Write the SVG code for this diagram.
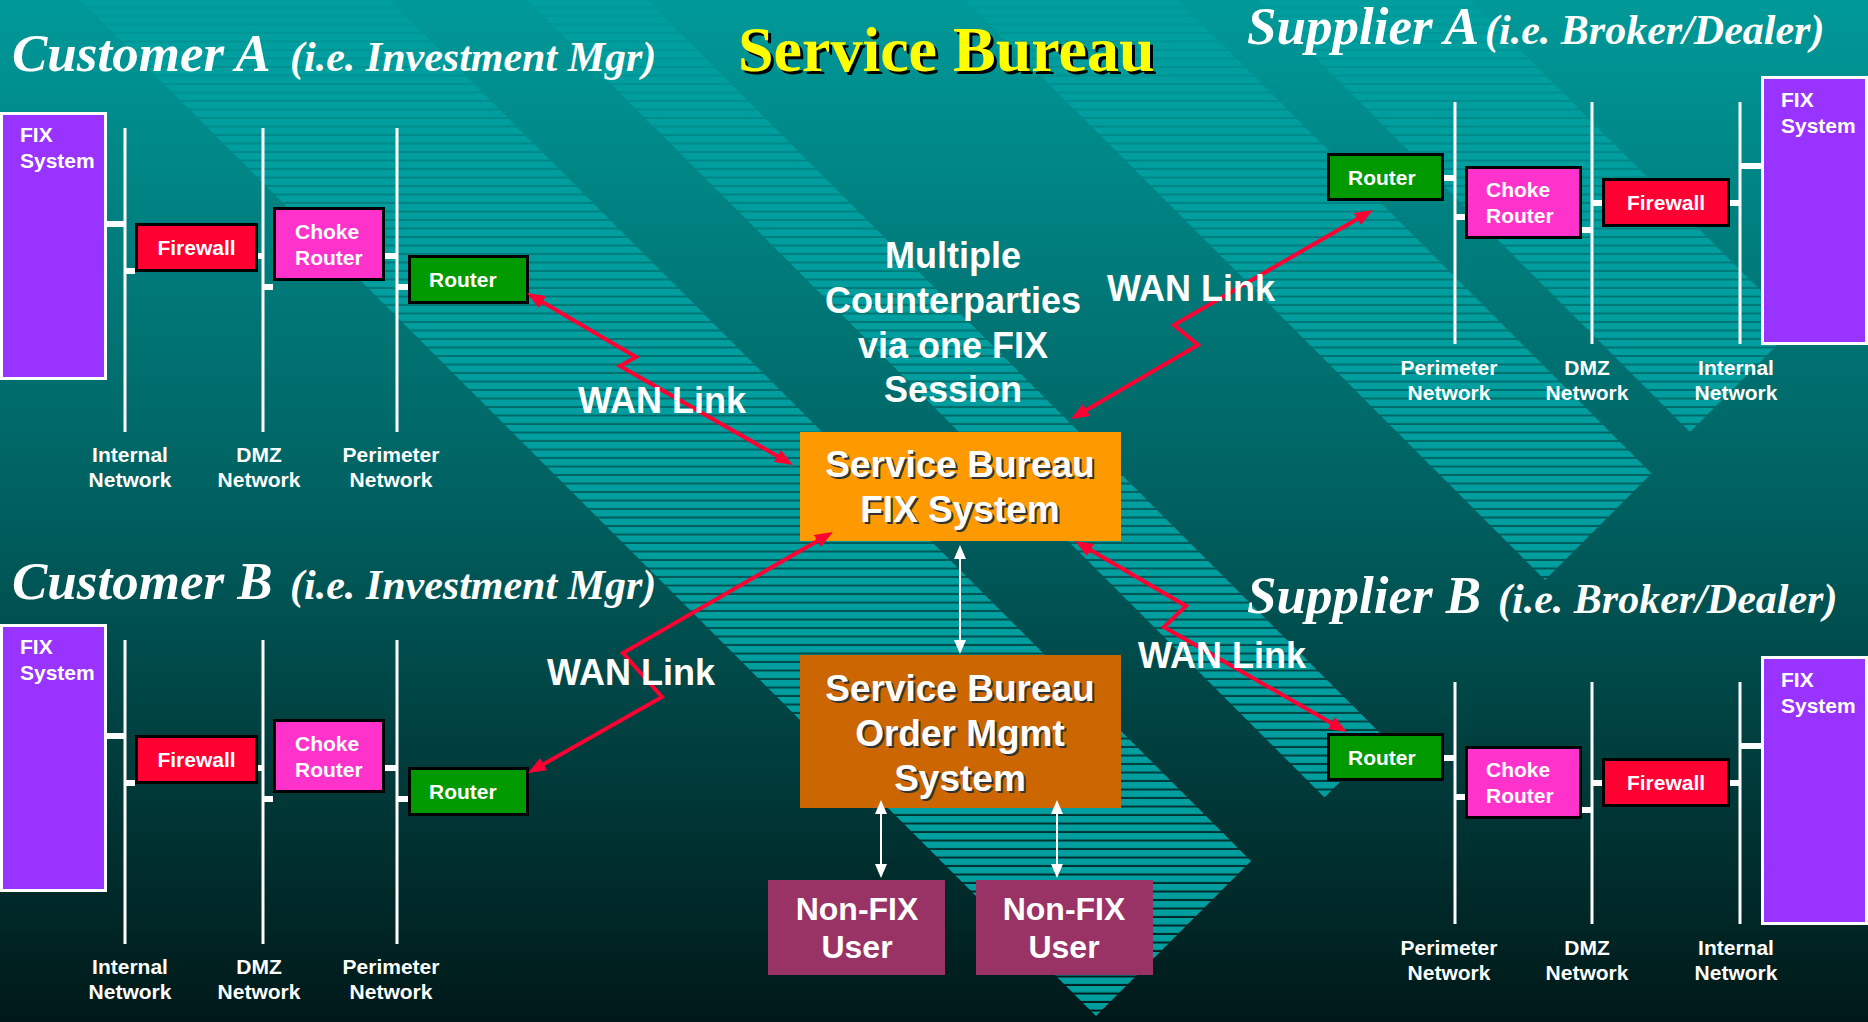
<svg xmlns="http://www.w3.org/2000/svg" width="1868" height="1022" viewBox="0 0 1868 1022">
<defs>
<linearGradient id="bg" x1="0" y1="0" x2="0" y2="1">
<stop offset="0" stop-color="#009999"/>
<stop offset="0.5" stop-color="#005f5f"/>
<stop offset="1" stop-color="#001818"/>
</linearGradient>
<pattern id="hatch" patternUnits="userSpaceOnUse" width="40" height="8.5">
<rect x="0" y="0" width="40" height="6.5" fill="#009e9e"/>
</pattern>
<marker id="redHead" markerUnits="userSpaceOnUse" markerWidth="18" markerHeight="14" refX="8" refY="7" orient="auto-start-reverse">
<path d="M0,0 L18,7 L0,14 z" fill="#ff0033"/>
</marker>
<marker id="whiteHead" markerUnits="userSpaceOnUse" markerWidth="14" markerHeight="12" refX="6" refY="6" orient="auto-start-reverse">
<path d="M0,0 L14,6 L0,12 z" fill="#ffffff"/>
</marker>
<style>
.title{font-family:"Liberation Serif","Times New Roman",serif;font-weight:bold;font-style:italic;fill:#ffffff}
.t53{font-size:53px}
.t42{font-size:42px}
.sb{font-family:"Liberation Serif","Times New Roman",serif;font-weight:bold;font-size:64px}
.lbl{font-family:"Liberation Sans",Arial,sans-serif;font-weight:bold;font-size:21px;fill:#ffffff}
.mid{text-anchor:middle}
.big{font-family:"Liberation Sans",Arial,sans-serif;font-weight:bold;font-size:36px;fill:#ffffff}
.box{font-family:"Liberation Sans",Arial,sans-serif;font-weight:bold;font-size:37px;text-anchor:middle}
.user{font-family:"Liberation Sans",Arial,sans-serif;font-weight:bold;font-size:32px;fill:#ffffff;text-anchor:middle}
.net{stroke:#ffffff;stroke-width:3}
.stub{fill:#ffffff}
.fix{fill:#9933ff;stroke:#ffffff;stroke-width:3}
.fw{fill:#ff0033;stroke:#000000;stroke-width:3}
.choke{fill:#ff33cc;stroke:#000000;stroke-width:3}
.router{fill:#009900;stroke:#000000;stroke-width:3}
.wan{fill:none;stroke:#ff0033;stroke-width:4;marker-start:url(#redHead);marker-end:url(#redHead)}
.dbl{stroke:#ffffff;stroke-width:2;marker-start:url(#whiteHead);marker-end:url(#whiteHead)}
</style>
</defs>

<rect x="0" y="0" width="1868" height="1022" fill="url(#bg)"/>
<g id="background-bands" fill="url(#hatch)">
<polygon points="80,0 390,0 1251,861 1096,1016"/>
<polygon points="527,0 647,0 1384.5,737.5 1324.5,797.5"/>
<polygon points="965,0 1178,0 1651.5,473.5 1545,580"/>
<polygon points="1258,0 1470,0 1796,326 1690,432"/>
</g>

<g id="titles">
<text class="title t53" x="12" y="71">Customer A</text>
<text class="title t42" x="290" y="71">(i.e. Investment Mgr)</text>
<text class="title t53" x="12" y="599">Customer B</text>
<text class="title t42" x="290" y="599">(i.e. Investment Mgr)</text>
<text class="title t53" x="1247" y="44">Supplier A</text>
<text class="title t42" x="1485" y="44">(i.e. Broker/Dealer)</text>
<text class="title t53" x="1247" y="613">Supplier B</text>
<text class="title t42" x="1498" y="613">(i.e. Broker/Dealer)</text>
<text class="sb" x="741" y="74" fill="#000000">Service Bureau</text>
<text class="sb" x="738" y="71" fill="#ffff00">Service Bureau</text>
</g>

<g id="customer-a">
<rect class="fix" x="1.5" y="113.5" width="104" height="265"/>
<text class="lbl" x="20" y="142">FIX</text>
<text class="lbl" x="20" y="168">System</text>
<line class="net" x1="125" y1="128" x2="125" y2="432"/>
<line class="net" x1="263" y1="128" x2="263" y2="432"/>
<line class="net" x1="397" y1="128" x2="397" y2="432"/>
<rect class="stub" x="107" y="221" width="18" height="6"/>
<rect class="stub" x="125" y="268" width="10" height="6"/>
<rect class="stub" x="258" y="253" width="5" height="6"/>
<rect class="stub" x="263" y="284" width="10" height="6"/>
<rect class="stub" x="385" y="253" width="12" height="6"/>
<rect class="stub" x="397" y="284" width="11" height="6"/>
<rect class="fw" x="136.5" y="224.5" width="120" height="46"/>
<text class="lbl mid" x="196.5" y="255">Firewall</text>
<rect class="choke" x="274.5" y="208.5" width="109" height="71"/>
<text class="lbl" x="295" y="239">Choke</text>
<text class="lbl" x="295" y="265">Router</text>
<rect class="router" x="409.5" y="256.5" width="118" height="46"/>
<text class="lbl" x="429" y="287">Router</text>
<text class="lbl mid" x="130" y="462">Internal</text>
<text class="lbl mid" x="130" y="487">Network</text>
<text class="lbl mid" x="259" y="462">DMZ</text>
<text class="lbl mid" x="259" y="487">Network</text>
<text class="lbl mid" x="391" y="462">Perimeter</text>
<text class="lbl mid" x="391" y="487">Network</text>
</g>

<g id="customer-b" transform="translate(0,512)">
<rect class="fix" x="1.5" y="113.5" width="104" height="265"/>
<text class="lbl" x="20" y="142">FIX</text>
<text class="lbl" x="20" y="168">System</text>
<line class="net" x1="125" y1="128" x2="125" y2="432"/>
<line class="net" x1="263" y1="128" x2="263" y2="432"/>
<line class="net" x1="397" y1="128" x2="397" y2="432"/>
<rect class="stub" x="107" y="221" width="18" height="6"/>
<rect class="stub" x="125" y="268" width="10" height="6"/>
<rect class="stub" x="258" y="253" width="5" height="6"/>
<rect class="stub" x="263" y="284" width="10" height="6"/>
<rect class="stub" x="385" y="253" width="12" height="6"/>
<rect class="stub" x="397" y="284" width="11" height="6"/>
<rect class="fw" x="136.5" y="224.5" width="120" height="46"/>
<text class="lbl mid" x="196.5" y="255">Firewall</text>
<rect class="choke" x="274.5" y="208.5" width="109" height="71"/>
<text class="lbl" x="295" y="239">Choke</text>
<text class="lbl" x="295" y="265">Router</text>
<rect class="router" x="409.5" y="256.5" width="118" height="46"/>
<text class="lbl" x="429" y="287">Router</text>
<text class="lbl mid" x="130" y="462">Internal</text>
<text class="lbl mid" x="130" y="487">Network</text>
<text class="lbl mid" x="259" y="462">DMZ</text>
<text class="lbl mid" x="259" y="487">Network</text>
<text class="lbl mid" x="391" y="462">Perimeter</text>
<text class="lbl mid" x="391" y="487">Network</text>
</g>

<g id="supplier-a">
<rect class="router" x="1328.5" y="154.5" width="114" height="45"/>
<text class="lbl" x="1348" y="185">Router</text>
<line class="net" x1="1455" y1="102" x2="1455" y2="344"/>
<line class="net" x1="1592" y1="102" x2="1592" y2="344"/>
<line class="net" x1="1740" y1="102" x2="1740" y2="344"/>
<rect class="stub" x="1444" y="175" width="11" height="6"/>
<rect class="stub" x="1455" y="214" width="10" height="6"/>
<rect class="stub" x="1582" y="227" width="10" height="6"/>
<rect class="stub" x="1592" y="200" width="10" height="6"/>
<rect class="stub" x="1730" y="200" width="10" height="6"/>
<rect class="stub" x="1740" y="163" width="21" height="6"/>
<rect class="choke" x="1466.5" y="167.5" width="114" height="70"/>
<text class="lbl" x="1486" y="197">Choke</text>
<text class="lbl" x="1486" y="223">Router</text>
<rect class="fw" x="1603.5" y="179.5" width="125" height="46"/>
<text class="lbl mid" x="1666" y="210">Firewall</text>
<rect class="fix" x="1762.5" y="77.5" width="104" height="266"/>
<text class="lbl" x="1781" y="107">FIX</text>
<text class="lbl" x="1781" y="133">System</text>
<text class="lbl mid" x="1449" y="375">Perimeter</text>
<text class="lbl mid" x="1449" y="400">Network</text>
<text class="lbl mid" x="1587" y="375">DMZ</text>
<text class="lbl mid" x="1587" y="400">Network</text>
<text class="lbl mid" x="1736" y="375">Internal</text>
<text class="lbl mid" x="1736" y="400">Network</text>
</g>

<g id="supplier-b" transform="translate(0,580)">
<rect class="router" x="1328.5" y="154.5" width="114" height="45"/>
<text class="lbl" x="1348" y="185">Router</text>
<line class="net" x1="1455" y1="102" x2="1455" y2="344"/>
<line class="net" x1="1592" y1="102" x2="1592" y2="344"/>
<line class="net" x1="1740" y1="102" x2="1740" y2="344"/>
<rect class="stub" x="1444" y="175" width="11" height="6"/>
<rect class="stub" x="1455" y="214" width="10" height="6"/>
<rect class="stub" x="1582" y="227" width="10" height="6"/>
<rect class="stub" x="1592" y="200" width="10" height="6"/>
<rect class="stub" x="1730" y="200" width="10" height="6"/>
<rect class="stub" x="1740" y="163" width="21" height="6"/>
<rect class="choke" x="1466.5" y="167.5" width="114" height="70"/>
<text class="lbl" x="1486" y="197">Choke</text>
<text class="lbl" x="1486" y="223">Router</text>
<rect class="fw" x="1603.5" y="179.5" width="125" height="46"/>
<text class="lbl mid" x="1666" y="210">Firewall</text>
<rect class="fix" x="1762.5" y="77.5" width="104" height="266"/>
<text class="lbl" x="1781" y="107">FIX</text>
<text class="lbl" x="1781" y="133">System</text>
<text class="lbl mid" x="1449" y="375">Perimeter</text>
<text class="lbl mid" x="1449" y="400">Network</text>
<text class="lbl mid" x="1587" y="375">DMZ</text>
<text class="lbl mid" x="1587" y="400">Network</text>
<text class="lbl mid" x="1736" y="375">Internal</text>
<text class="lbl mid" x="1736" y="400">Network</text>
</g>

<g id="note">
<text class="big mid" x="953" y="268">Multiple</text>
<text class="big mid" x="953" y="313">Counterparties</text>
<text class="big mid" x="953" y="358">via one FIX</text>
<text class="big mid" x="953" y="402">Session</text>
</g>

<g id="sb-fix-system">
<rect x="800" y="432" width="321" height="109" fill="#ff9900"/>
<text class="box" x="962" y="479" fill="#333333">Service Bureau</text>
<text class="box" x="962" y="524" fill="#333333">FIX System</text>
<text class="box" x="960" y="477" fill="#ffffff">Service Bureau</text>
<text class="box" x="960" y="522" fill="#ffffff">FIX System</text>
</g>

<g id="sb-oms">
<rect x="800" y="655" width="321" height="153" fill="#cc6600"/>
<text class="box" x="962" y="703" fill="#333333">Service Bureau</text>
<text class="box" x="962" y="748" fill="#333333">Order Mgmt</text>
<text class="box" x="962" y="793" fill="#333333">System</text>
<text class="box" x="960" y="701" fill="#ffffff">Service Bureau</text>
<text class="box" x="960" y="746" fill="#ffffff">Order Mgmt</text>
<text class="box" x="960" y="791" fill="#ffffff">System</text>
</g>

<g id="non-fix-user-1">
<rect x="768" y="880" width="177" height="95" fill="#993366"/>
<text class="user" x="857" y="920">Non-FIX</text>
<text class="user" x="857" y="958">User</text>
</g>

<g id="non-fix-user-2">
<rect x="976" y="880" width="177" height="95" fill="#993366"/>
<text class="user" x="1064" y="920">Non-FIX</text>
<text class="user" x="1064" y="958">User</text>
</g>

<g id="connectors">
<polyline class="wan" points="535.6,298.1 636,357 620,366 784.3,460"/>
<polyline class="wan" points="536.7,768.1 662,697 623,653 824.3,537"/>
<polyline class="wan" points="1364.3,215 1174,325 1198,345 1079.6,414"/>
<polyline class="wan" points="1083.6,546.1 1186,606 1164,627 1338.3,727"/>
<line class="dbl" x1="960" y1="553" x2="960" y2="646"/>
<line class="dbl" x1="881" y1="808" x2="881" y2="870"/>
<line class="dbl" x1="1057" y1="808" x2="1057" y2="870"/>
<text class="big" x="578" y="413">WAN Link</text>
<text class="big" x="547" y="685">WAN Link</text>
<text class="big" x="1107" y="301">WAN Link</text>
<text class="big" x="1138" y="668">WAN Link</text>
</g>
</svg>
